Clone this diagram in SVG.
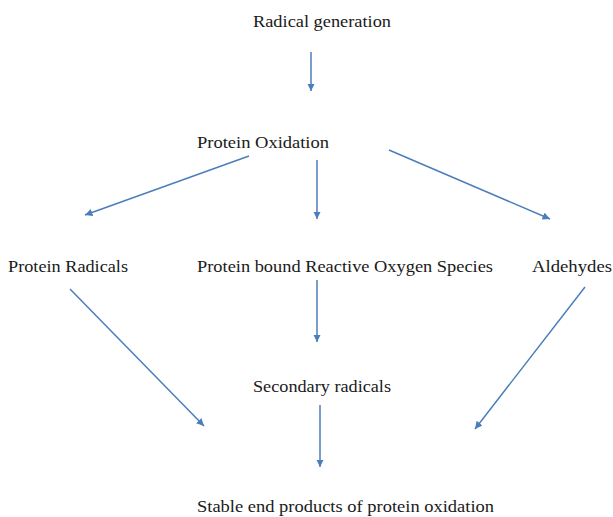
<svg xmlns="http://www.w3.org/2000/svg" width="613" height="517" viewBox="0 0 613 517">
<defs>
<marker id="ah" viewBox="0 0 10 10" refX="10" refY="5" markerWidth="5" markerHeight="5" orient="auto" markerUnits="strokeWidth">
<path d="M0,0 L10,5 L0,10 Z" fill="#4a7ebb"/>
</marker>
<style>
text{font-family:"Liberation Serif","Times New Roman",serif;font-size:17.5px;fill:#1a1a1a}
.c line{stroke:#4a7ebb;stroke-width:1.5;marker-end:url(#ah)}
</style>
</defs>
<rect width="613" height="517" fill="#fff"/>
<g id="n1"><text x="253" y="27" textLength="138" lengthAdjust="spacingAndGlyphs">Radical generation</text></g>
<g id="n2"><text x="197" y="148" textLength="132" lengthAdjust="spacingAndGlyphs">Protein Oxidation</text></g>
<g id="n3"><text x="8" y="272" textLength="120" lengthAdjust="spacingAndGlyphs">Protein Radicals</text></g>
<g id="n4"><text x="197" y="272" textLength="296" lengthAdjust="spacingAndGlyphs">Protein bound Reactive Oxygen Species</text></g>
<g id="n5"><text x="532" y="272" textLength="80" lengthAdjust="spacingAndGlyphs">Aldehydes</text></g>
<g id="n6"><text x="253" y="392" textLength="138" lengthAdjust="spacingAndGlyphs">Secondary radicals</text></g>
<g id="n7"><text x="197" y="512" textLength="297" lengthAdjust="spacingAndGlyphs">Stable end products of protein oxidation</text></g>
<g class="c">
<line x1="311" y1="52" x2="311" y2="91"/>
<line x1="249" y1="156" x2="85" y2="215"/>
<line x1="317" y1="160" x2="317" y2="219"/>
<line x1="389" y1="150" x2="550" y2="219"/>
<line x1="317" y1="280" x2="317" y2="342"/>
<line x1="70" y1="289" x2="204" y2="426"/>
<line x1="585" y1="287" x2="475" y2="429"/>
<line x1="320" y1="405" x2="320" y2="467"/>
</g>
</svg>
